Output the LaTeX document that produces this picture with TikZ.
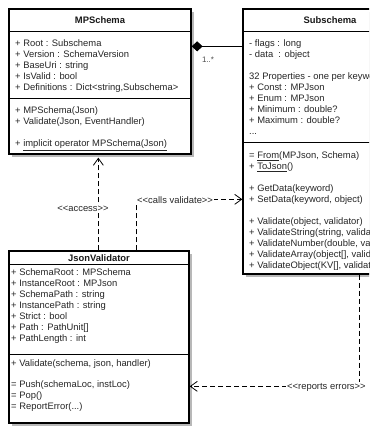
\documentclass[tikz,border=0pt]{standalone}
\usepackage{fontspec}
\setmainfont{Liberation Sans}[Ligatures=TeXOff]
\usetikzlibrary{positioning,arrows.meta,calc,shadows}

\begin{document}
\begin{tikzpicture}[
  x=1pt, y=-1pt,
  font=\fontsize{9.4pt}{11pt}\selectfont,
  classbox/.style={draw, line width=1.3pt, inner sep=0pt, fill=white,
    drop shadow={shadow xshift=3pt, shadow yshift=-3pt, fill=black!28, opacity=1}},
  sep/.style={line width=0.9pt},
  classtitle/.style={font=\fontsize{9.4pt}{11pt}\selectfont\bfseries, text=black!90},
  member/.style={anchor=base west, inner sep=0pt, text=black!85},
  dep/.style={dash pattern=on 5pt off 3pt, line width=1pt,
    -{Straight Barb[length=7pt, width=10pt, line width=0.8pt]}},
  comp/.style={line width=0.9pt, -{Diamond[length=11pt, width=10pt]}},
  lbl/.style={fill=white, inner sep=1pt, text=black!85}
]
\useasboundingbox (0,0) rectangle (369,435);
\clip (0,0) rectangle (369,435);

% class boxes
\node[classbox, minimum width=182pt, minimum height=145pt] (mps) at (100,81.5) {};
\node[classbox, minimum width=174pt, minimum height=265pt] (sub) at (330,141.5) {};
\node[classbox, minimum width=180pt, minimum height=172pt] (jv) at (99,337) {};

\draw[sep] ([yshift=-23pt]mps.north west) -- ([yshift=-23pt]mps.north east);
\draw[sep] ([yshift=-90pt]mps.north west) -- ([yshift=-90pt]mps.north east);
\draw[sep] ([yshift=-23pt]sub.north west) -- ([yshift=-23pt]sub.north east);
\draw[sep] ([yshift=-134pt]sub.north west) -- ([yshift=-134pt]sub.north east);
\draw[sep] ([yshift=-14pt]jv.north west) -- ([yshift=-14pt]jv.north east);
\draw[sep] ([yshift=-104pt]jv.north west) -- ([yshift=-104pt]jv.north east);

\node[classtitle] (mpst) at (100,20) {MPSchema};
\node[classtitle] (subt) at (330,20) {Subschema};
\node[classtitle] (jvt) at (99,258) {JsonValidator};

% MPSchema members
\foreach \y/\t [count=\i] in {46.5/{+ Root : Subschema}, 57.5/{+ Version : SchemaVersion},
    68.5/{+ BaseUri : string}, 79.5/{+ IsValid : bool},
    90.5/{+ Definitions : Dict<string,Subschema>},
    113.5/{+ MPSchema(Json)}, 124.5/{+ Validate(Json, EventHandler)},
    146.5/{+ \underline{implicit operator MPSchema(Json)}}}
  \node[member] (mpsm\i) at (15,\y) {\t};

% Subschema members
\foreach \y/\t [count=\i] in {46.5/{- flags : long}, 57.5/{- data \ : object},
    79.5/{32 Properties - one per keyword}, 90.5/{+ Const : MPJson},
    101.5/{+ Enum : MPJson}, 112.5/{+ Minimum : double?},
    123.5/{+ Maximum : double?}, 134.5/{...},
    158.5/{= \underline{From}(MPJson, Schema)}, 169.5/{+ \underline{ToJson}()},
    191.5/{+ GetData(keyword)}, 202.5/{+ SetData(keyword, object)},
    224.5/{+ Validate(object, validator)}, 235.5/{+ ValidateString(string, validator)},
    246.5/{+ ValidateNumber(double, validator)}, 257.5/{+ ValidateArray(object[], validator)},
    268.5/{+ ValidateObject(KV[], validator)}}
  \node[member] (subm\i) at (249,\y) {\t};

% JsonValidator members
\foreach \y/\t [count=\i] in {275.5/{+ SchemaRoot : MPSchema}, 286.5/{+ InstanceRoot : MPJson},
    297.5/{+ SchemaPath : string}, 308.5/{+ InstancePath : string},
    319.5/{+ Strict : bool}, 330.5/{+ Path : PathUnit[]}, 341.5/{+ PathLength : int},
    366.5/{+ Validate(schema, json, handler)},
    387.5/{= Push(schemaLoc, instLoc)}, 398.5/{= Pop()}, 409.5/{= ReportError(...)}}
  \node[member] (jvm\i) at (11,\y) {\t};

% relations
\draw[comp] ([yshift=-38pt]sub.north west) -- ([yshift=-38pt]mps.north east);
\draw[dep] ([xshift=90pt]jv.north west) -- ([xshift=90pt, yshift=-3pt]mps.south west);
\draw[dep] ([xshift=128pt]jv.north west) |- ([yshift=-191pt]sub.north west);
\draw[dep] ([xshift=117pt]sub.south west) |- ([yshift=-136pt]jv.north east);

\node[text=black!70, font=\fontsize{8pt}{9pt}\selectfont] (mult) at (208,60) {1..*};
\node[lbl] (acc) at (83,209) {<<access>>};
\node[lbl, anchor=west] (callv) at (136,200) {<<calls validate>>};
\node[lbl, anchor=west] (reperr) at (286,387) {<<reports errors>>};
\end{tikzpicture}
\end{document}
